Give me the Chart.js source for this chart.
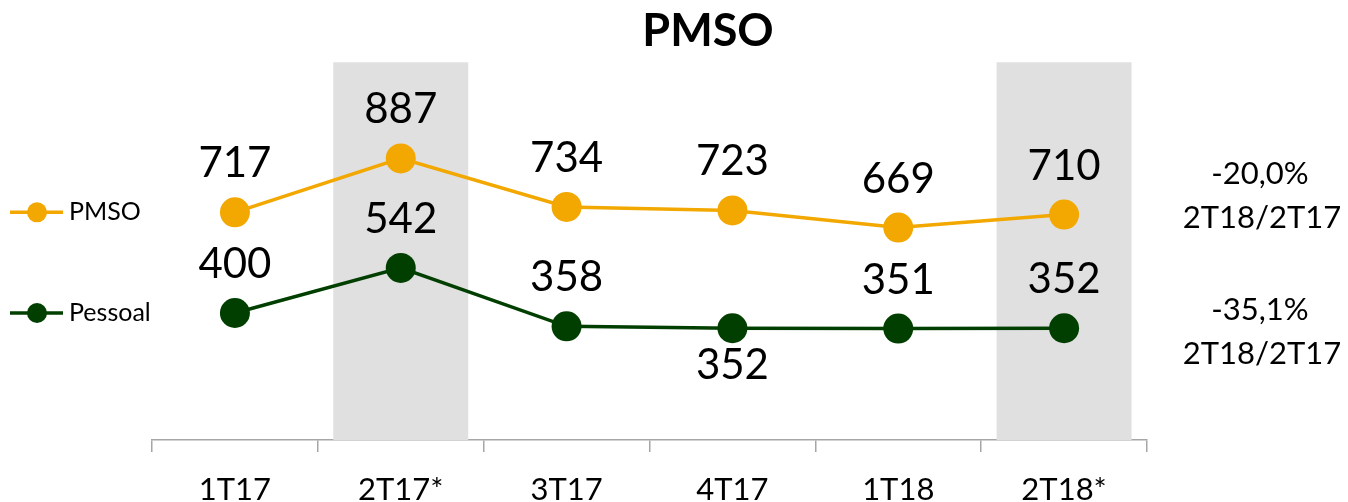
<!DOCTYPE html>
<html>
<head>
<meta charset="utf-8">
<script src="https://cdn.jsdelivr.net/npm/chart.js@4.4.1/dist/chart.umd.min.js"></script>
<style>
  html, body { margin: 0; padding: 0; background: #fff; }
  #wrap { width: 1348px; height: 502px; }
</style>
</head>
<body>
<div id="wrap"><canvas id="myChart" width="1348" height="502"></canvas></div>
<script>
const categories = ["1T17", "2T17*", "3T17", "4T17", "1T18", "2T18*"];
const pmso = [717, 887, 734, 723, 669, 710];
const pessoal = [400, 542, 358, 352, 351, 352];
// grey highlight behind the two compared quarters
const highlight = [null, 1190, null, null, null, 1190];
const pmsoNote = ["-20,0%", "2T18/2T17"];
const pessoalNote = ["-35,1%", "2T18/2T17"];

const orange = "#F2A800";
const green = "#003F00";
const fontName = "Lato, 'Open Sans', sans-serif";

const labelsPlugin = {
  id: "labels",
  afterDatasetsDraw(chart) {
    const ctx = chart.ctx;
    ctx.save();
    ctx.fillStyle = "#000";
    ctx.textAlign = "center";
    chart.data.datasets.forEach((ds, i) => {
      if (ds.type !== "line") return;
      const meta = chart.getDatasetMeta(i);
      ctx.font = "42px " + fontName;
      meta.data.forEach((pt, j) => {
        if (ds.below && ds.below[j]) {
          ctx.textBaseline = "top";
          ctx.fillText(ds.data[j], pt.x, pt.y + 16);
        } else {
          ctx.textBaseline = "alphabetic";
          ctx.fillText(ds.data[j], pt.x, pt.y - 35);
        }
      });
      // legend entry at the height of the first point
      const y = meta.data[0].y;
      ctx.strokeStyle = ds.borderColor;
      ctx.lineWidth = 3.5;
      ctx.beginPath();
      ctx.moveTo(10, y);
      ctx.lineTo(63, y);
      ctx.stroke();
      ctx.fillStyle = ds.borderColor;
      ctx.beginPath();
      ctx.arc(37, y, 10, 0, Math.PI * 2);
      ctx.fill();
      ctx.fillStyle = "#000";
      ctx.textAlign = "left";
      ctx.textBaseline = "middle";
      ctx.font = "25px " + fontName;
      ctx.fillText(ds.label, 69, y);
      ctx.textAlign = "center";
    });

    ctx.font = "31px " + fontName;
    ctx.textBaseline = "middle";
    ctx.fillText(pmsoNote[0], 1260, 174);
    ctx.fillText(pmsoNote[1], 1262, 218);
    ctx.fillText(pessoalNote[0], 1260, 310);
    ctx.fillText(pessoalNote[1], 1262, 354);

    ctx.font = "bold 45px " + fontName;
    ctx.fillText("PMSO", 708, 31);
    ctx.restore();
  }
};

new Chart(document.getElementById("myChart"), {
  data: {
    labels: categories,
    datasets: [
      {
        type: "line",
        label: "PMSO",
        data: pmso,
        borderColor: orange,
        backgroundColor: orange,
        borderWidth: 3.5,
        pointRadius: 15,
        pointHoverRadius: 15,
        pointBorderWidth: 0,
        order: 1
      },
      {
        type: "line",
        label: "Pessoal",
        data: pessoal,
        borderColor: green,
        backgroundColor: green,
        borderWidth: 3.5,
        pointRadius: 15,
        pointHoverRadius: 15,
        pointBorderWidth: 0,
        below: [false, false, false, true, false, false],
        order: 2
      },
      {
        type: "bar",
        label: "highlight",
        data: highlight,
        backgroundColor: "#E0E0E0",
        categoryPercentage: 1,
        barPercentage: 0.814,
        order: 10
      }
    ]
  },
  options: {
    responsive: false,
    animation: false,
    layout: { padding: { left: 152, right: 201, top: 59, bottom: 0 } },
    plugins: {
      legend: { display: false },
      title: { display: false },
      tooltip: { enabled: false }
    },
    scales: {
      x: {
        offset: true,
        grid: {
          offset: true,
          drawOnChartArea: false,
          color: "#A6A6A6",
          lineWidth: 1.5,
          tickLength: 12
        },
        border: { display: true, color: "#A6A6A6", width: 1.5 },
        ticks: {
          color: "#000",
          font: { family: fontName, size: 31 },
          padding: 19,
          maxRotation: 0
        },
        afterFit(scale) { scale.height = 62; }
      },
      y: {
        display: false,
        min: 0,
        max: 1200
      }
    }
  },
  plugins: [labelsPlugin]
});
</script>
</body>
</html>
